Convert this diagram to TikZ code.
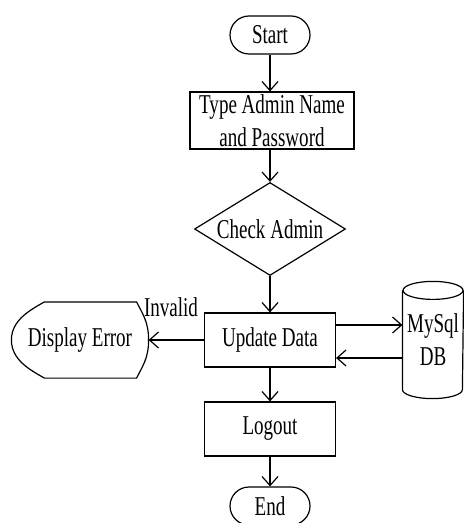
\documentclass[tikz,border=0pt]{standalone}
\usepackage{fontspec}
\setmainfont{Liberation Serif}[FakeStretch=0.7]
\usetikzlibrary{shapes.geometric,arrows.meta}

\begin{document}
\begin{tikzpicture}[
	x=0.5pt, y=-0.5pt,
	line width=0.6pt,
	every node/.style={
		font=\fontsize{13.6}{16.5}\selectfont,
		align=center,
		inner sep=0pt
	},
	box/.style={rectangle, draw, minimum width=65.5pt, minimum height=27pt},
	term/.style={rectangle, draw, rounded corners=9.5pt, minimum width=40pt, minimum height=19pt},
	decide/.style={diamond, draw, aspect=1.62, minimum width=75.5pt, minimum height=46.5pt},
	>={Straight Barb[length=4.5pt,width=8pt]}
]
\useasboundingbox (0,0) rectangle (464,523);

\node[term] (start) at (270,35) {Start};
\node[box, minimum width=82pt, minimum height=28.5pt] (typeadm) at (272,120.5) {Type Admin Name\\and Password};
\node[decide] (chk) at (270,229) {Check Admin};
\node[box] (upd) at (270,340) {Update Data};
\node[box] (logout) at (270,429) {Logout};
\node[term] (end) at (270,506) {End};
\node[minimum width=68pt, minimum height=37.5pt] (disp) at (80,340) {Display Error};
\node[minimum width=30pt, minimum height=58pt] (db) at (433,340) {MySql\\DB};
\node (inv) at (171,307) {Invalid};

\draw ([xshift=16.5pt]disp.north west) -- ([xshift=-6pt]disp.north east)
	.. controls +(3pt,-6pt) and +(0,9pt) .. (disp.east)
	.. controls +(0,-9pt) and +(3pt,6pt) .. ([xshift=-6pt]disp.south east)
	-- ([xshift=16.5pt]disp.south west)
	.. controls +(-7pt,4pt) and +(0,-10pt) .. (disp.west)
	.. controls +(0,10pt) and +(-7pt,-4pt) .. ([xshift=16.5pt]disp.north west) -- cycle;

\draw ([yshift=-4.5pt]db.north) ellipse [x radius=15pt, y radius=4.5pt];
\draw ([yshift=-4.5pt]db.north west) -- ([yshift=4.5pt]db.south west)
	arc [start angle=180, end angle=360, x radius=15pt, y radius=4.5pt]
	-- ([yshift=-4.5pt]db.north east);

\draw[->] (start.south) -- (start.south |- typeadm.north);
\draw[->] (typeadm.south -| chk.north) -- (chk.north);
\draw[->] (chk.south) -- (upd.north);
\draw[->] (upd.west) -- (disp.east);
\draw[->] ([yshift=7.5pt]upd.east) -- ([yshift=7.5pt]upd.east -| db.west);
\draw[->] ([yshift=-9pt]upd.east -| db.west) -- ([yshift=-9pt]upd.east);
\draw[->] (upd.south) -- (logout.north);
\draw[->] (logout.south) -- (end.north);
\end{tikzpicture}
\end{document}
